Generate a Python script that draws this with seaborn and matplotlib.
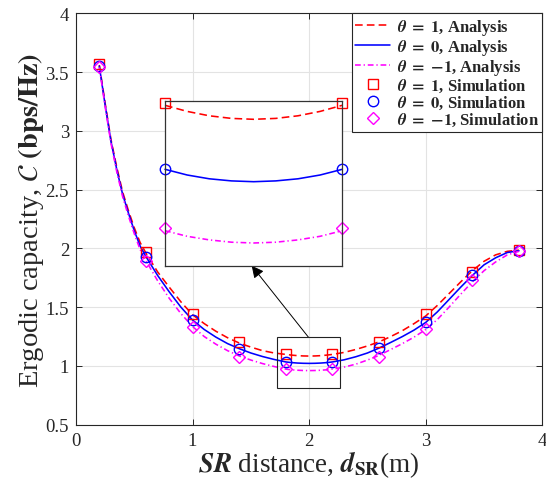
import numpy as np
import pandas as pd
import matplotlib
matplotlib.use("Agg")
import matplotlib.pyplot as plt
from matplotlib.patches import Rectangle
import seaborn as sns

# ---------------- data ----------------
x_ana = [0.2, 0.25, 0.3, 0.35, 0.4, 0.45, 0.5, 0.55, 0.6, 0.7, 0.8, 0.9, 1.0,
         1.1, 1.2, 1.3, 1.4, 1.5, 1.6, 1.7, 1.8, 1.85, 1.9, 1.95, 2.0, 2.05,
         2.1, 2.15, 2.2, 2.3, 2.4, 2.5, 2.6, 2.7, 2.8, 2.9, 3.0, 3.1, 3.2,
         3.3, 3.4, 3.5, 3.6, 3.7, 3.8]

ana_theta_p1 = [3.56, 3.235, 2.925, 2.69, 2.48, 2.32, 2.175, 2.05, 1.96, 1.80,
                1.67, 1.545, 1.435, 1.36, 1.295, 1.24, 1.195, 1.16, 1.13, 1.11,
                1.098, 1.0919, 1.0875, 1.0849, 1.084, 1.0849, 1.0875, 1.0919,
                1.098, 1.115, 1.14, 1.17, 1.205, 1.25, 1.30, 1.36, 1.425,
                1.515, 1.615, 1.715, 1.81, 1.89, 1.945, 1.975, 1.985]

ana_theta_0 = [3.55, 3.22, 2.91, 2.67, 2.46, 2.30, 2.15, 2.02, 1.93, 1.77,
               1.63, 1.50, 1.39, 1.31, 1.245, 1.19, 1.147, 1.11, 1.08, 1.055,
               1.034, 1.0283, 1.0245, 1.0224, 1.0216, 1.0224, 1.0245, 1.0283,
               1.034, 1.052, 1.078, 1.11, 1.152, 1.20, 1.25, 1.305, 1.37,
               1.46, 1.565, 1.67, 1.77, 1.86, 1.92, 1.965, 1.98]

ana_theta_m1 = [3.54, 3.205, 2.895, 2.65, 2.44, 2.275, 2.125, 1.99, 1.895, 1.725,
                1.575, 1.445, 1.335, 1.25, 1.185, 1.13, 1.085, 1.05, 1.02, 0.995,
                0.9726, 0.967, 0.9634, 0.9611, 0.9603, 0.9611, 0.9634, 0.967,
                0.9726, 0.99, 1.015, 1.05, 1.09, 1.14, 1.19, 1.245, 1.31,
                1.395, 1.50, 1.61, 1.715, 1.81, 1.885, 1.945, 1.975]

x_sim = [0.2, 0.6, 1.0, 1.4, 1.8, 2.2, 2.6, 3.0, 3.4, 3.8]
sim_theta_p1 = [3.57, 1.97, 1.44, 1.20, 1.100, 1.100, 1.20, 1.44, 1.80, 1.985]
sim_theta_0 = [3.555, 1.93, 1.39, 1.145, 1.034, 1.034, 1.15, 1.375, 1.77, 1.98]
sim_theta_m1 = [3.545, 1.89, 1.33, 1.075, 0.975, 0.975, 1.08, 1.315, 1.73, 1.975]

labels_ana = [r"$\boldsymbol{\theta}\ \mathbf{=\ 1}$, Analysis",
              r"$\boldsymbol{\theta}\ \mathbf{=\ 0}$, Analysis",
              r"$\boldsymbol{\theta}\ \mathbf{=\ {-1}}$, Analysis"]
labels_sim = [r"$\boldsymbol{\theta}\ \mathbf{=\ 1}$, Simulation",
              r"$\boldsymbol{\theta}\ \mathbf{=\ 0}$, Simulation",
              r"$\boldsymbol{\theta}\ \mathbf{=\ {-1}}$, Simulation"]

x_ticks = [0, 1, 2, 3, 4]
y_ticks = [0.5, 1, 1.5, 2, 2.5, 3, 3.5, 4]
zoom_x = (1.8, 2.2)

# ---------------- style ----------------
sns.set_style("ticks")
plt.rcParams["font.family"] = ["Liberation Serif", "DejaVu Serif"]
plt.rcParams["mathtext.fontset"] = "stix"
plt.rcParams["xtick.direction"] = "in"
plt.rcParams["ytick.direction"] = "in"

colors = ["#ff0000", "#0000ff", "#ff00ff"]
styles = [(0, (4.8, 2.6)), "-", (0, (3.6, 1.8, 0.8, 1.8))]
markers = ["s", "o", "D"]
msizes = [7.5, 7.5, 6.2]
ana = [ana_theta_p1, ana_theta_0, ana_theta_m1]
sim = [sim_theta_p1, sim_theta_0, sim_theta_m1]

W, H = 546, 485
fig = plt.figure(figsize=(W / 100, H / 100), dpi=100)
ax = fig.add_axes([76 / W, (H - 425.7) / H, 466.3 / W, 411.4 / H])


def draw(a, with_labels=True, xr=None):
    for i in range(3):
        df = pd.DataFrame({"x": x_ana, "y": ana[i]})
        if xr is not None:
            df = df[(df.x >= xr[0] - 1e-9) & (df.x <= xr[1] + 1e-9)]
        sns.lineplot(data=df, x="x", y="y", ax=a, color=colors[i],
                     linestyle=styles[i], linewidth=1.15,
                     label=labels_ana[i] if with_labels else None,
                     legend=with_labels, sort=True)
    for i in range(3):
        df = pd.DataFrame({"x": x_sim, "y": sim[i]})
        if xr is not None:
            df = df[(df.x >= xr[0] - 1e-9) & (df.x <= xr[1] + 1e-9)]
        sns.lineplot(data=df, x="x", y="y", ax=a, color=colors[i],
                     linestyle="none", marker=markers[i], markersize=msizes[i],
                     markerfacecolor="none", markeredgecolor=colors[i],
                     markeredgewidth=1.0,
                     label=labels_sim[i] if with_labels else None,
                     legend=with_labels)


draw(ax, True)

ax.set_xlim(0, 4)
ax.set_ylim(0.5, 4)
ax.set_xticks(x_ticks)
ax.set_yticks(y_ticks)
ax.set_xticklabels([str(t) for t in x_ticks])
ax.set_yticklabels(["0.5", "1", "1.5", "2", "2.5", "3", "3.5", "4"])
ax.tick_params(axis="both", labelsize=13.5, top=True, right=True,
               length=4, width=0.7, colors="#262626", pad=5)
ax.grid(True, color="#e3e3e3", linewidth=0.8)
ax.set_axisbelow(True)
for s in ax.spines.values():
    s.set_color("#262626")
    s.set_linewidth(0.8)
    s.set_visible(True)

ax.set_xlabel(r"$\boldsymbol{SR}$ distance, $\boldsymbol{d}_{\mathbf{SR}}$(m)",
              fontsize=19.5, labelpad=0)
ax.set_ylabel(r"Ergodic capacity, $\boldsymbol{\mathcal{C}}$ $\mathbf{(bps/Hz)}$",
              fontsize=20.5, labelpad=0)

leg = ax.legend(loc="upper right", bbox_to_anchor=(1.0, 1.0), borderaxespad=0,
                prop={"weight": "bold", "size": 12},
                frameon=True, fancybox=False, framealpha=1,
                edgecolor="#262626", handlelength=2.1, handletextpad=0.4,
                labelspacing=0.0, borderpad=0.2)
leg.get_frame().set_linewidth(0.8)

# zoom rectangle on main axes
rect = Rectangle((1.726, 0.809), 2.264 - 1.726, 1.243 - 0.809,
                 fill=False, edgecolor="#222222", linewidth=0.8, zorder=5)
ax.add_patch(rect)

# inset axes
axins = fig.add_axes([165 / W, (H - 266.7) / H, 177.3 / W, 165 / H])
draw(axins, False, zoom_x)
axins.set_xlim(*zoom_x)
axins.set_ylim(0.9376, 1.1026)
axins.set_xticks([])
axins.set_yticks([])
axins.set_xlabel("")
axins.set_ylabel("")
axins.grid(False)
for s in axins.spines.values():
    s.set_color("#333333")
    s.set_linewidth(0.9)
    s.set_visible(True)
for ln in axins.lines:
    ln.set_clip_on(False)

# arrow from zoom box to inset
ax.annotate("", xy=(0.489, 0.0), xycoords=axins.transAxes,
            xytext=(1.995, 1.243), textcoords="data",
            arrowprops=dict(arrowstyle="-|>,head_length=0.6,head_width=0.3",
                            color="k", lw=0.7, mutation_scale=12,
                            shrinkA=0, shrinkB=0))

fig.savefig("out.png", dpi=100)
